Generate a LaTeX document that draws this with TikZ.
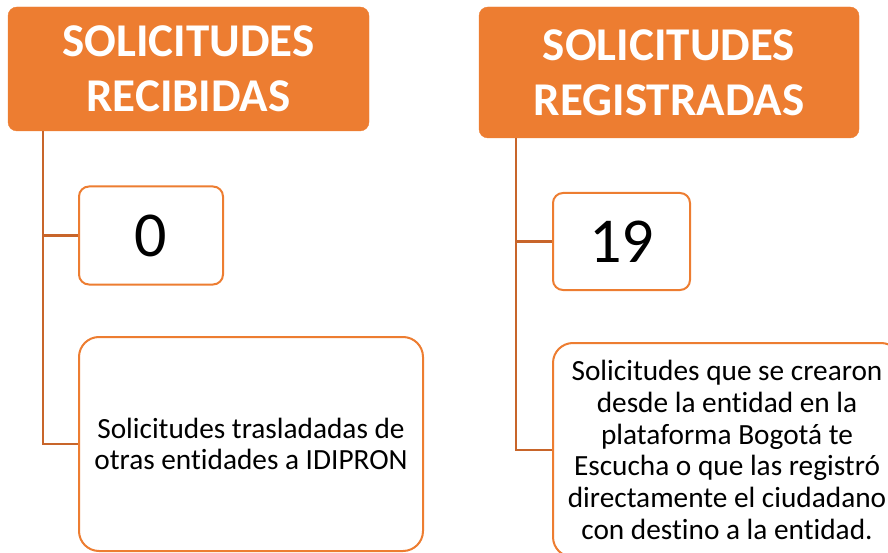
\documentclass[tikz,border=0pt]{standalone}
\usepackage{fontspec}
\setmainfont[Ligatures=NoCommon]{Carlito}
\definecolor{org}{HTML}{ED7D31}
\definecolor{orgdark}{HTML}{C8652A}
\begin{document}
\begin{tikzpicture}[x=1pt,y=-1pt,
  hdr/.style={fill=org, draw=org, rounded corners=9pt, text=white, align=center,
    font=\bfseries\fontsize{47}{55}\selectfont, inner sep=0pt},
  numbox/.style={fill=white, draw=org, line width=2pt, rounded corners=10pt,
    font=\fontsize{64}{70}\selectfont, inner sep=0pt},
  txtbox/.style={fill=white, draw=org, line width=2pt, rounded corners=20pt, align=center,
    font=\fontsize{29.3}{31.7}\selectfont, inner sep=0pt},
  conn/.style={draw=orgdark, line width=2.6pt}]
\useasboundingbox (0,0) rectangle (888,553);
\clip (0,0) rectangle (888,553);
% left column
\node[hdr, minimum width=361pt, minimum height=124pt] (h1) at (188.5,69) {SOLICITUDES\\RECIBIDAS};
\node[numbox, minimum width=144pt, minimum height=98pt] (b0) at (151,235.5) {0};
\node[txtbox, minimum width=344pt, minimum height=214pt] (t0) at (251,444) {Solicitudes trasladadas de\\otras entidades a IDIPRON};
\coordinate (s1) at ([xshift=35pt]h1.south west);
\draw[conn] (s1) |- (b0.west);
\draw[conn] (s1) |- (t0.west);
% right column
\node[hdr, minimum width=380pt, minimum height=131pt] (h2) at (669,72.5) {SOLICITUDES\\REGISTRADAS};
\node[numbox, minimum width=137pt, minimum height=97pt] (b19) at (621.5,241.5) {19};
\node[txtbox, minimum width=348pt, minimum height=214pt] (t19) at (727,450) {Solicitudes que se crearon\\desde la entidad en la\\plataforma Bogotá te\\Escucha o que las registró\\directamente el ciudadano\\con destino a la entidad.};
\coordinate (s2) at ([xshift=37pt]h2.south west);
\draw[conn] (s2) |- (b19.west);
\draw[conn] (s2) |- (t19.west);
\end{tikzpicture}
\end{document}
